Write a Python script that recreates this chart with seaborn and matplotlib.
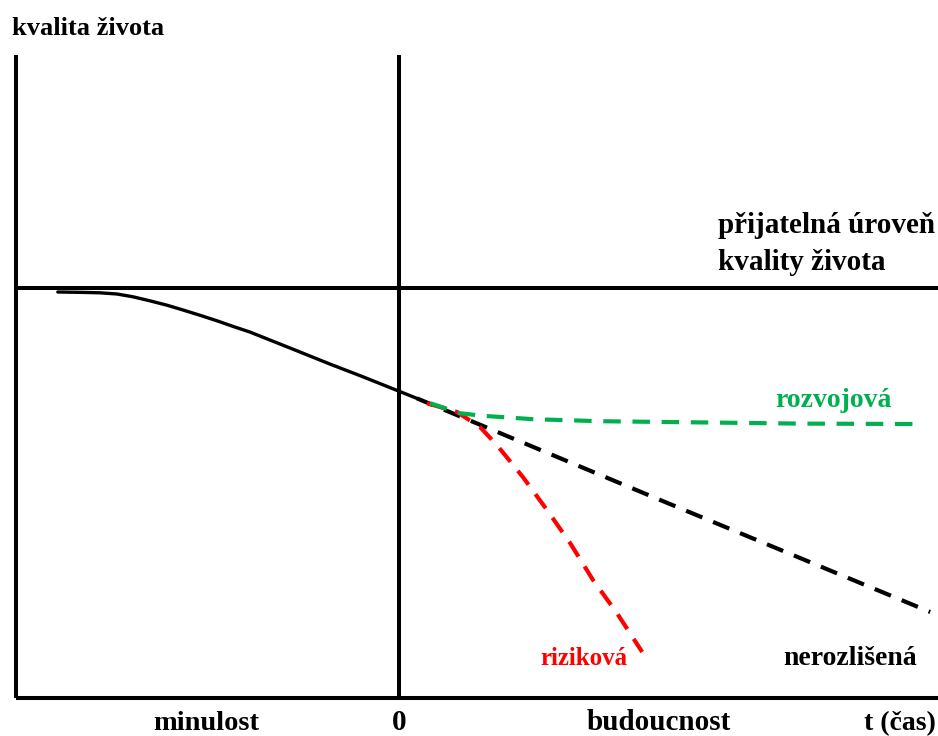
import numpy as np
import pandas as pd
import matplotlib.pyplot as plt
import seaborn as sns

# time axis: 0 = present, quality axis: 0 = acceptable level
past_t = [-8.53, -7.9, -7.48, -7.05, -6.65, -6.23, -5.8, -5.4, -4.98, -4.55,
          -4.15, -3.73, -2.55, -1.73, -0.9, -0.05, 0.45]
past_q = [-0.1, -0.11, -0.12, -0.15, -0.22, -0.32, -0.43, -0.55, -0.68, -0.82,
          -0.96, -1.1, -1.57, -1.9, -2.22, -2.56, -2.76]

neutral_t = [0.45, 6.53, 13.28]
neutral_q = [-2.76, -5.3, -8.1]

develop_t = [0.78, 1.53, 2.03, 3.35, 5.03, 7.53, 10.03, 12.85]
develop_q = [-2.88, -3.13, -3.19, -3.28, -3.33, -3.36, -3.39, -3.4]

risk_t = [0.7, 1.45, 2.03, 2.45, 3.1, 3.7, 4.28, 4.85, 5.45, 6.08]
risk_q = [-2.88, -3.1, -3.48, -3.93, -4.73, -5.55, -6.38, -7.3, -8.13, -9.1]

acceptable_q = 0.0
t_min, t_max = -9.58, 13.55
q_min, q_max = -10.25, 5.83

GREEN = "#00B050"
RED = "#FF0000"

sns.set_style("white")
plt.rcParams['font.family'] = ['Liberation Serif', 'DejaVu Serif']
plt.rcParams['font.weight'] = 'bold'
plt.rcParams['text.color'] = 'black'

fig = plt.figure(figsize=(9.38, 7.36), dpi=100)
ax = fig.add_axes([0, 0, 1, 1])

lw_axis = 2.9
ax.plot([t_min, t_min], [q_min, q_max], color="black", lw=lw_axis, solid_capstyle="butt")
ax.plot([t_min, t_max], [q_min, q_min], color="black", lw=lw_axis, solid_capstyle="butt")
ax.plot([0, 0], [q_min, q_max], color="black", lw=lw_axis, solid_capstyle="butt")
ax.plot([t_min, t_max], [acceptable_q, acceptable_q], color="black", lw=lw_axis, solid_capstyle="butt")

sns.lineplot(x=past_t, y=past_q, ax=ax, color="black", lw=2.4, sort=False)

dash = (4.2, 2.8)
sns.lineplot(x=neutral_t, y=neutral_q, ax=ax, color="black", lw=3, sort=False)
ax.lines[-1].set_dashes(dash)
sns.lineplot(x=risk_t, y=risk_q, ax=ax, color=RED, lw=3, sort=False)
ax.lines[-1].set_dashes(dash)
sns.lineplot(x=develop_t, y=develop_q, ax=ax, color=GREEN, lw=3, sort=False)
ax.lines[-1].set_dashes(dash)

ax.text(-9.68, 6.33, "kvalita života", fontsize=19, fontweight="bold", ha="left", va="baseline")
ax.text(7.98, 1.38, "přijatelná úroveň", fontsize=21, fontweight="bold", ha="left", va="baseline")
ax.text(7.98, 0.45, "kvality života", fontsize=21, fontweight="bold", ha="left", va="baseline")
ax.text(9.4, -2.98, "rozvojová", fontsize=20, fontweight="bold", color=GREEN, ha="left", va="baseline")
ax.text(3.53, -9.43, "riziková", fontsize=18, fontweight="bold", color=RED, ha="left", va="baseline")
ax.text(9.6, -9.43, "nerozlišená", fontsize=20, fontweight="bold", ha="left", va="baseline")
ax.text(-4.83, -11.06, "minulost", fontsize=20.5, fontweight="bold", ha="center", va="baseline")
ax.text(0, -11.06, "0", fontsize=21, fontweight="bold", ha="center", va="baseline")
ax.text(6.5, -11.06, "budoucnost", fontsize=21, fontweight="bold", ha="center", va="baseline")
ax.text(12.53, -11.06, "t (čas)", fontsize=20, fontweight="bold", ha="center", va="baseline")

ax.set_xlim(-9.975, 13.475)
ax.set_ylim(-11.2, 7.2)
ax.axis("off")

fig.savefig("out.png", dpi=100)
